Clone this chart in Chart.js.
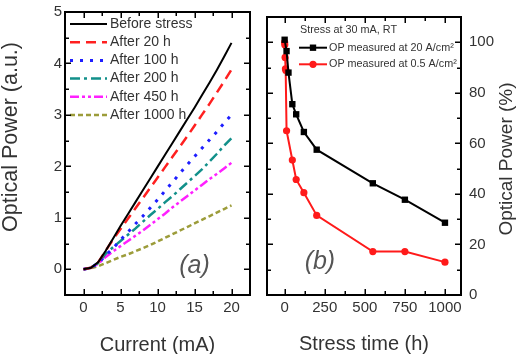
<!DOCTYPE html>
<html>
<head>
<meta charset="utf-8">
<title>Optical power degradation</title>
<script src="https://cdn.jsdelivr.net/npm/chart.js@4.4.1/dist/chart.umd.min.js"></script>
<style>
  body { margin: 0; background: #fff; }
  #wrap { position: relative; width: 517px; height: 354px; overflow: hidden; }
  canvas { position: absolute; top: 0; }
  #chartA { left: 0; }
  #chartB { left: 258px; }
</style>
</head>
<body>
<div id="wrap">
  <canvas id="chartA" width="258" height="354"></canvas>
  <canvas id="chartB" width="259" height="354"></canvas>
</div>
<script>
// ---- panel (a): L-I curves before / after stress ----
const currentMA = [0, 1, 2, 3, 4, 5, 6, 7, 8, 9, 10, 11, 12, 13, 14, 15, 16, 17, 18, 19, 20];
const beforeStress = [0, 0.03, 0.14, 0.36, 0.6, 0.84, 1.07, 1.3, 1.53, 1.76, 1.99, 2.22, 2.45, 2.68, 2.91, 3.14, 3.38, 3.62, 3.87, 4.13, 4.4];
const after20h   = [0, 0.03, 0.14, 0.36, 0.58, 0.78, 0.98, 1.18, 1.38, 1.58, 1.78, 1.98, 2.18, 2.38, 2.58, 2.79, 3.0, 3.21, 3.43, 3.65, 3.88];
const after100h  = [0, 0.03, 0.12, 0.27, 0.41, 0.57, 0.72, 0.88, 1.03, 1.19, 1.35, 1.52, 1.69, 1.86, 2.03, 2.19, 2.35, 2.51, 2.67, 2.84, 3.0];
const after200h  = [0, 0.03, 0.12, 0.3, 0.43, 0.55, 0.67, 0.79, 0.92, 1.05, 1.17, 1.3, 1.42, 1.55, 1.68, 1.81, 1.94, 2.09, 2.24, 2.4, 2.55];
const after450h  = [0, 0.03, 0.11, 0.24, 0.35, 0.45, 0.55, 0.65, 0.75, 0.86, 0.97, 1.08, 1.2, 1.31, 1.42, 1.53, 1.64, 1.75, 1.85, 1.96, 2.07];
const after1000h = [0, 0.02, 0.06, 0.12, 0.18, 0.24, 0.29, 0.35, 0.41, 0.47, 0.54, 0.61, 0.68, 0.75, 0.82, 0.89, 0.96, 1.03, 1.1, 1.17, 1.24];
const liLabels = ['Before stress', 'After 20 h', 'After 100 h', 'After 200 h', 'After 450 h', 'After 1000 h'];
const currentTicks = [0, 5, 10, 15, 20];
const powerTicks = [0, 1, 2, 3, 4, 5];

// ---- panel (b): optical power vs stress time ----
const timeAt20 = [0, 12, 24, 48, 72, 120, 200, 550, 750, 1000];
const opAt20 = [101, 96.5, 88, 75.5, 71.5, 64.5, 57.5, 44.2, 37.7, 28.6];
const timeAt05 = [0, 1, 3, 5, 8, 12, 48, 72, 120, 200, 550, 750, 1000];
const opAt05 = [100, 99, 94, 89.5, 88.8, 65, 53.4, 45.7, 40.5, 31.5, 17.2, 17.2, 13];
const opLabels = ['OP measured at 20 A/cm²', 'OP measured at 0.5 A/cm²'];
const stressTicks = [0, 250, 500, 750, 1000];
const percentTicks = [0, 20, 40, 60, 80, 100];

Chart.defaults.font.family = '"Liberation Sans", Arial, Helvetica, sans-serif';
Chart.defaults.color = '#333';

const liColors = ['#000000', '#ff2020', '#1e1eff', '#12908a', '#ff20ff', '#9c9c3a'];
const liDash = [[], [10, 6], [3, 7], [10, 4, 3, 4], [9, 3, 3, 3, 3, 3], [5, 3]];
const liWidth = [2, 2.5, 3, 2.5, 2.5, 2.5];

// boxed axis; the inward tick marks are added by the frameTicks plugin
function frameAxis(position, min, max, step, size, labels, pad) {
  return {
    type: 'linear',
    position: position,
    min: min,
    max: max,
    afterFit: (s) => {
      if (s.isHorizontal()) s.height = size; else s.width = size;
    },
    border: { display: true, color: '#000', width: 2 },
    grid: { drawOnChartArea: false, drawTicks: false },
    ticks: {
      display: pad !== undefined,
      stepSize: step,
      includeBounds: false,
      autoSkip: false,
      maxRotation: 0,
      padding: pad || 0,
      font: { size: 15 },
      color: '#333',
      callback: (v) => labels.includes(v) ? String(v) : '',
    },
  };
}

const frameTicks = {
  id: 'frameTicks',
  afterDraw(chart, args, o) {
    const { ctx, chartArea: a } = chart;
    ctx.save();
    ctx.strokeStyle = '#000';
    ctx.lineWidth = 1.5;
    Object.values(chart.scales).forEach((s) => {
      const majors = o.majors[s.id] || [];
      s.ticks.forEach((t) => {
        if (t.value <= s.min || t.value >= s.max) return;
        const p = Math.round(s.getPixelForValue(t.value)) + 0.25;
        const len = majors.includes(t.value) ? o.major : o.minor;
        ctx.beginPath();
        if (s.position === 'bottom') { ctx.moveTo(p, a.bottom); ctx.lineTo(p, a.bottom - len); }
        else if (s.position === 'top') { ctx.moveTo(p, a.top); ctx.lineTo(p, a.top + len); }
        else if (s.position === 'left') { ctx.moveTo(a.left, p); ctx.lineTo(a.left + len, p); }
        else { ctx.moveTo(a.right, p); ctx.lineTo(a.right - len, p); }
        ctx.stroke();
      });
    });
    ctx.restore();
  }
};

const insideLegend = {
  id: 'insideLegend',
  afterDatasetsDraw(chart, args, o) {
    const { ctx, chartArea } = chart;
    const x0 = chartArea.left + o.left;
    let y = chartArea.top + o.top;
    ctx.save();
    ctx.font = o.font;
    ctx.textBaseline = 'middle';
    ctx.textAlign = 'left';
    if (o.title) {
      ctx.fillStyle = o.color;
      ctx.fillText(o.title, x0 + o.titleIndent, y);
      y += o.titleGap;
    }
    chart.data.datasets.forEach((ds) => {
      ctx.save();
      ctx.strokeStyle = ds.borderColor;
      ctx.lineWidth = ds.borderWidth;
      ctx.setLineDash(ds.borderDash || []);
      ctx.beginPath();
      ctx.moveTo(x0, y);
      ctx.lineTo(x0 + o.sample, y);
      ctx.stroke();
      if (ds.pointRadius) {
        const cx = x0 + o.sample / 2;
        ctx.setLineDash([]);
        ctx.fillStyle = ds.pointBackgroundColor;
        ctx.beginPath();
        if (ds.pointStyle === 'rect') {
          const h = ds.pointRadius * Math.SQRT1_2;
          ctx.rect(cx - h, y - h, 2 * h, 2 * h);
        } else {
          ctx.arc(cx, y, ds.pointRadius, 0, Math.PI * 2);
        }
        ctx.fill();
      }
      ctx.restore();
      ctx.fillStyle = o.color;
      ctx.fillText(ds.label, x0 + o.sample + o.gap, y);
      y += o.rowHeight;
    });
    ctx.restore();
  }
};

// panel tag "(a)"/"(b)" and the rotated y-axis title
const panelText = {
  id: 'panelText',
  afterDatasetsDraw(chart, args, o) {
    const { ctx, scales } = chart;
    ctx.save();
    ctx.font = o.tagFont;
    ctx.fillStyle = '#555';
    ctx.textAlign = 'center';
    ctx.textBaseline = 'middle';
    ctx.fillText(o.tag, scales.x.getPixelForValue(o.tagAt[0]), scales.y.getPixelForValue(o.tagAt[1]));
    ctx.translate(o.sideX, o.sideY);
    ctx.rotate(-Math.PI / 2);
    ctx.font = o.sideFont;
    ctx.fillStyle = '#333';
    ctx.fillText(o.sideTitle, 0, 0);
    ctx.restore();
  }
};

const liSeries = [beforeStress, after20h, after100h, after200h, after450h, after1000h];

new Chart(document.getElementById('chartA'), {
  type: 'line',
  data: {
    datasets: liSeries.map((vals, i) => ({
      label: liLabels[i],
      data: vals.map((p, k) => ({ x: currentMA[k], y: p })),
      xAxisID: 'x',
      yAxisID: 'y',
      borderColor: liColors[i],
      borderWidth: liWidth[i],
      borderDash: liDash[i],
      borderCapStyle: 'butt',
      pointRadius: 0,
      tension: 0,
      fill: false,
    })),
  },
  options: {
    responsive: false,
    animation: false,
    devicePixelRatio: 1,
    events: [],
    layout: { padding: { left: 0, top: 12, right: 8, bottom: 0 } },
    plugins: {
      legend: { display: false },
      tooltip: { enabled: false },
      frameTicks: { major: 6, minor: 4, majors: { x: currentTicks, x2: currentTicks, y: powerTicks, y2: powerTicks } },
      insideLegend: { left: 5, top: 12, sample: 37, gap: 3, rowHeight: 18.2, font: '14px "Liberation Sans", Arial, sans-serif', color: '#333' },
      panelText: { tag: '(a)', tagAt: [15, 0.07], tagFont: 'italic 25px "Liberation Sans", Arial, sans-serif',
        sideTitle: 'Optical Power (a.u.)', sideX: 11, sideY: 137, sideFont: '21.5px "Liberation Sans", Arial, sans-serif' },
    },
    scales: {
      x: Object.assign(frameAxis('bottom', -2.5, 22.5, 2.5, 59, currentTicks, 4), {
        title: { display: true, text: 'Current (mA)', color: '#333', font: { size: 20, lineHeight: 1 }, padding: { top: 0, bottom: -1 } },
      }),
      x2: frameAxis('top', -2.5, 22.5, 2.5, 0, currentTicks),
      y: frameAxis('left', -0.5, 5, 0.5, 65, powerTicks, 3),
      y2: frameAxis('right', -0.5, 5, 0.5, 0, powerTicks),
    },
  },
  plugins: [frameTicks, insideLegend, panelText],
});

new Chart(document.getElementById('chartB'), {
  type: 'line',
  data: {
    datasets: [
      {
        label: opLabels[0],
        data: timeAt20.map((t, k) => ({ x: t, y: opAt20[k] })),
        xAxisID: 'x',
        yAxisID: 'y',
        borderColor: '#000',
        borderWidth: 2,
        pointStyle: 'rect',
        pointRadius: 4.5,
        pointBackgroundColor: '#000',
        pointBorderColor: '#000',
        pointBorderWidth: 0,
        tension: 0,
      },
      {
        label: opLabels[1],
        data: timeAt05.map((t, k) => ({ x: t, y: opAt05[k] })),
        xAxisID: 'x',
        yAxisID: 'y',
        borderColor: '#ff1a1a',
        borderWidth: 2,
        pointStyle: 'circle',
        pointRadius: 3.6,
        pointBackgroundColor: '#ff1a1a',
        pointBorderColor: '#ff1a1a',
        pointBorderWidth: 0,
        tension: 0,
      },
    ],
  },
  options: {
    responsive: false,
    animation: false,
    devicePixelRatio: 1,
    events: [],
    layout: { padding: { left: 9, top: 12, right: 0, bottom: 0 } },
    plugins: {
      legend: { display: false },
      tooltip: { enabled: false },
      frameTicks: { major: 6, minor: 4, majors: { x: stressTicks, xt: stressTicks, yl: percentTicks, y: percentTicks } },
      insideLegend: { left: 32, top: 13, title: 'Stress at 30 mA, RT', titleIndent: 1, titleGap: 17.7, sample: 28, gap: 2, rowHeight: 16.6, font: '10.8px "Liberation Sans", Arial, sans-serif', color: '#333' },
      panelText: { tag: '(b)', tagAt: [220, 13], tagFont: 'italic 25px "Liberation Sans", Arial, sans-serif',
        sideTitle: 'Optical Power (%)', sideX: 249, sideY: 159, sideFont: '19px "Liberation Sans", Arial, sans-serif' },
    },
    scales: {
      x: Object.assign(frameAxis('bottom', -110, 1100, 125, 59, stressTicks, 4), {
        title: { display: true, text: 'Stress time (h)', color: '#333', font: { size: 20, lineHeight: 1 }, padding: { top: 0, bottom: 0 } },
      }),
      xt: frameAxis('top', -110, 1100, 125, 0, stressTicks),
      yl: frameAxis('left', 0, 110, 10, 0, percentTicks),
      y: frameAxis('right', 0, 110, 10, 56, percentTicks, 8),
    },
  },
  plugins: [frameTicks, insideLegend, panelText],
});
</script>
</body>
</html>
